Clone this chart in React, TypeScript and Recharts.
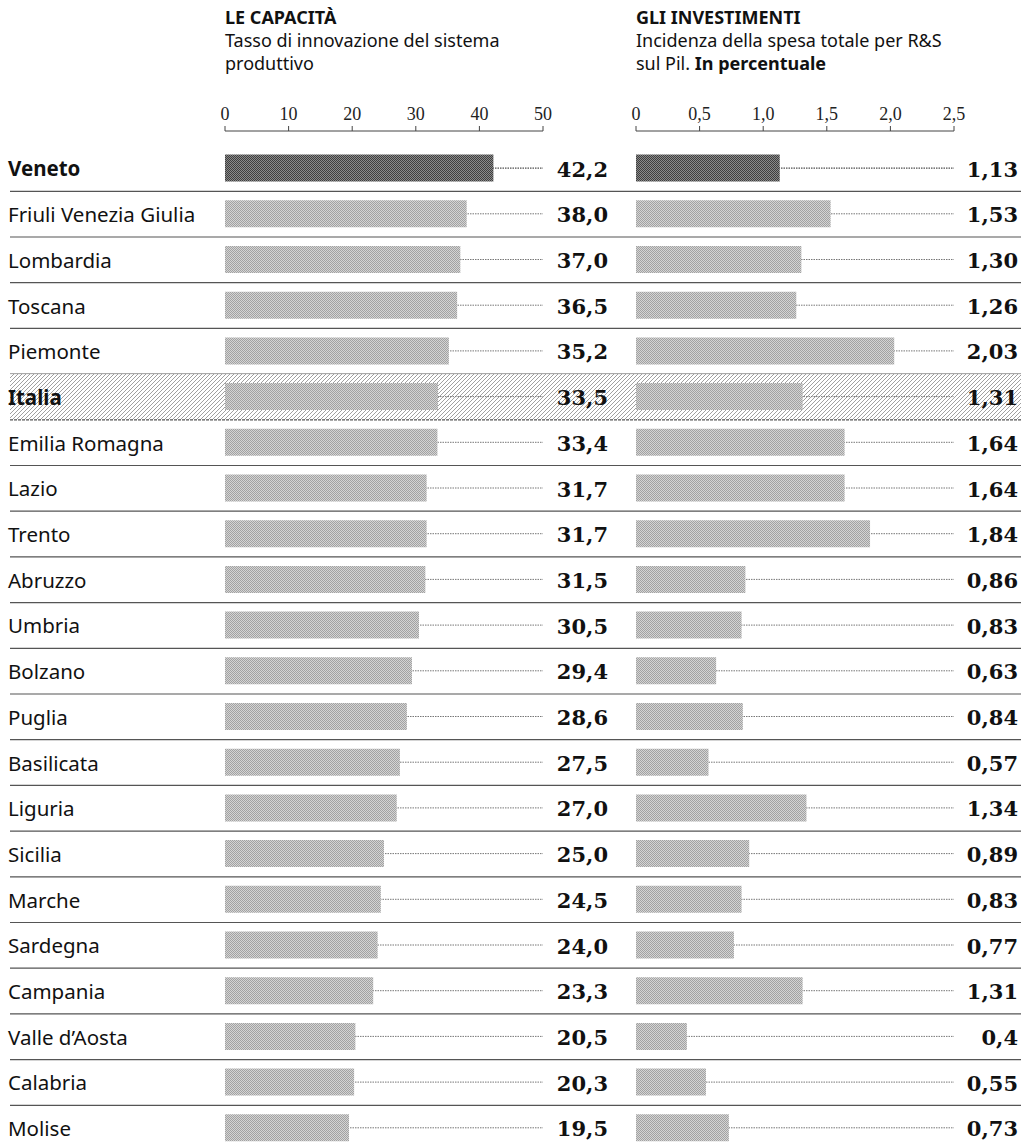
import { Bar, BarChart, Cell, LabelList, XAxis, YAxis } from "recharts";

const regions = [
  "Veneto",
  "Friuli Venezia Giulia",
  "Lombardia",
  "Toscana",
  "Piemonte",
  "Italia",
  "Emilia Romagna",
  "Lazio",
  "Trento",
  "Abruzzo",
  "Umbria",
  "Bolzano",
  "Puglia",
  "Basilicata",
  "Liguria",
  "Sicilia",
  "Marche",
  "Sardegna",
  "Campania",
  "Valle d’Aosta",
  "Calabria",
  "Molise",
];

// Tasso di innovazione del sistema produttivo
const capacita = [
  42.2, 38.0, 37.0, 36.5, 35.2, 33.5, 33.4, 31.7, 31.7, 31.5, 30.5, 29.4, 28.6,
  27.5, 27.0, 25.0, 24.5, 24.0, 23.3, 20.5, 20.3, 19.5,
];

// Spesa R&S sul Pil, in %
const investimenti = [
  1.13, 1.53, 1.3, 1.26, 2.03, 1.31, 1.64, 1.64, 1.84, 0.86, 0.83, 0.63, 0.84,
  0.57, 1.34, 0.89, 0.83, 0.77, 1.31, 0.4, 0.55, 0.73,
];
const investimentiLabels = [
  "1,13", "1,53", "1,30", "1,26", "2,03", "1,31", "1,64", "1,64", "1,84",
  "0,86", "0,83", "0,63", "0,84", "0,57", "1,34", "0,89", "0,83", "0,77",
  "1,31", "0,4", "0,55", "0,73",
];

const capTicks = [0, 10, 20, 30, 40, 50];
const invTicks = [0, 0.5, 1, 1.5, 2, 2.5];

const HIGHLIGHT = "Veneto";
const AVERAGE = "Italia";

const SANS = '"Noto Sans", sans-serif';
const SERIF = '"DejaVu Serif", serif';
const TICK_SERIF = '"Liberation Serif", serif';

// layout
const W = 1021;
const H = 1148;
const ROW_H = 45.7;
const PLOT_TOP = 131;
const AXIS_H = 30;
const PAD_TOP = 14.6;
const CHART_H = Math.round(PLOT_TOP + PAD_TOP + ROW_H * regions.length);

const rows = regions.map((region, i) => ({
  region,
  cap: capacita[i],
  inv: investimenti[i],
  capLabel: capacita[i].toFixed(1).replace(".", ","),
  invLabel: investimentiLabels[i],
}));

// row label + separator + hatch for the national average, drawn in the bottom layer
function RegionTick(props: any) {
  const { y, payload, index } = props;
  const name = payload.value;
  const bold = name === HIGHLIGHT || name === AVERAGE;
  const top = y - ROW_H / 2;
  const bottom = y + ROW_H / 2;
  return (
    <g>
      {name === AVERAGE && (
        <rect x={10} y={top} width={W - 10} height={ROW_H} fill="url(#italiaHatch)" />
      )}
      {index < regions.length - 1 && (
        <line
          x1={10}
          x2={W}
          y1={bottom}
          y2={bottom}
          stroke="#555"
          strokeWidth={1.2}
          strokeDasharray={name === AVERAGE ? "3 1" : undefined}
        />
      )}
      <text
        x={8}
        y={y}
        dominantBaseline="central"
        fontFamily={SANS}
        fontSize={20.5}
        fontWeight={bold ? 700 : 400}
        fill="#111"
      >
        {name}
      </text>
    </g>
  );
}

const leader = (props: any) => {
  const { x, y, width, height, index } = props;
  const name = props.payload?.region ?? regions[index];
  const cy = y + height / 2;
  return (
    <line
      x1={x}
      x2={x + width}
      y1={cy}
      y2={cy}
      stroke={name === HIGHLIGHT ? "#222" : "#777"}
      strokeWidth={1}
      strokeDasharray="1.5 1"
    />
  );
};

const valueLabel = (xPos: number) => (props: any) => {
  const { y, height, value } = props;
  return (
    <text
      x={xPos}
      y={Number(y) + Number(height) / 2 + 1}
      textAnchor="end"
      dominantBaseline="central"
      fontFamily={SERIF}
      fontWeight={700}
      fontSize={21}
      fill="#111"
    >
      {value}
    </text>
  );
};

const barFill = (name: string, id: string) =>
  name === HIGHLIGHT ? `url(#dark${id})` : `url(#light${id})`;

function Patterns({ id }: { id: string }) {
  return (
    <defs>
      <pattern id={`dark${id}`} width={2} height={2} patternUnits="userSpaceOnUse">
        <rect width={2} height={2} fill="#8a8a8a" />
        <rect x={0} y={0} width={1} height={1} fill="#3e3e3e" />
        <rect x={1} y={1} width={1} height={1} fill="#3e3e3e" />
      </pattern>
      <pattern id={`light${id}`} width={2} height={2} patternUnits="userSpaceOnUse">
        <rect width={2} height={2} fill="#d4d4d4" />
        <rect x={0} y={0} width={1} height={1} fill="#a2a2a2" />
        <rect x={1} y={1} width={1} height={1} fill="#a2a2a2" />
      </pattern>
    </defs>
  );
}

const axisStyle = {
  tick: { fill: "#222", fontSize: 18, fontFamily: TICK_SERIF },
  tickLine: { stroke: "#444" },
  axisLine: { stroke: "#444" },
};

const headStyle: React.CSSProperties = {
  position: "absolute",
  top: 6,
  fontFamily: SANS,
  fontSize: 18,
  lineHeight: "23px",
  color: "#111",
};

const layer: React.CSSProperties = { position: "absolute", left: 0, top: 0 };

export default function App() {
  return (
    <div
      style={{
        position: "absolute",
        left: 0,
        top: 0,
        width: W,
        height: H,
        background: "#fff",
        overflow: "hidden",
      }}
    >
      <div style={{ ...headStyle, left: 225 }}>
        <div style={{ fontWeight: 700 }}>LE CAPACITÀ</div>
        <div>Tasso di innovazione del sistema</div>
        <div>produttivo</div>
      </div>
      <div style={{ ...headStyle, left: 636 }}>
        <div style={{ fontWeight: 700 }}>GLI INVESTIMENTI</div>
        <div>Incidenza della spesa totale per R&amp;S</div>
        <div>
          sul Pil. <b>In percentuale</b>
        </div>
      </div>

      {/* bottom layer: region labels, row rules, hatched average row */}
      <div style={layer}>
        <BarChart
          width={W}
          height={CHART_H}
          data={rows}
          layout="vertical"
          margin={{ top: PLOT_TOP, right: W - 543, bottom: 0, left: 0 }}
        >
          <defs>
            <pattern id="italiaHatch" width={4} height={4} patternUnits="userSpaceOnUse">
              <rect width={4} height={4} fill="#fff" />
              <path d="M-1,1 l2,-2 M0,4 l4,-4 M3,5 l2,-2" stroke="#a0a0a0" strokeWidth={1} />
            </pattern>
          </defs>
          <YAxis
            type="category"
            dataKey="region"
            width={225}
            axisLine={false}
            tickLine={false}
            padding={{ top: PAD_TOP, bottom: 0 }}
            tick={<RegionTick />}
            interval={0}
          />
          <XAxis type="number" domain={[0, 50]} hide />
          <Bar dataKey="cap" fill="transparent" isAnimationActive={false} />
        </BarChart>
      </div>

      {/* left panel bars */}
      <div style={layer}>
        <BarChart
          width={W}
          height={CHART_H}
          data={rows}
          layout="vertical"
          margin={{ top: PLOT_TOP - AXIS_H, right: W - 543, bottom: 0, left: 225 }}
        >
          <Patterns id="L" />
          <YAxis
            type="category"
            dataKey="region"
            hide
            padding={{ top: PAD_TOP, bottom: 0 }}
          />
          <XAxis
            type="number"
            orientation="top"
            domain={[0, 50]}
            ticks={capTicks}
            height={AXIS_H}
            tickSize={5}
            tickMargin={6}
            {...axisStyle}
          />
          <Bar dataKey="cap" barSize={27} isAnimationActive={false} background={leader}>
            {rows.map((r) => (
              <Cell key={r.region} fill={barFill(r.region, "L")} />
            ))}
            <LabelList dataKey="capLabel" content={valueLabel(608)} />
          </Bar>
        </BarChart>
      </div>

      {/* right panel bars */}
      <div style={layer}>
        <BarChart
          width={W}
          height={CHART_H}
          data={rows}
          layout="vertical"
          margin={{ top: PLOT_TOP - AXIS_H, right: W - 954, bottom: 0, left: 636 }}
        >
          <Patterns id="R" />
          <YAxis
            type="category"
            dataKey="region"
            hide
            padding={{ top: PAD_TOP, bottom: 0 }}
          />
          <XAxis
            type="number"
            orientation="top"
            domain={[0, 2.5]}
            ticks={invTicks}
            height={AXIS_H}
            tickSize={5}
            tickMargin={6}
            tickFormatter={(v: number) => (v === 0 ? "0" : v.toFixed(1).replace(".", ","))}
            {...axisStyle}
          />
          <Bar dataKey="inv" barSize={27} isAnimationActive={false} background={leader}>
            {rows.map((r) => (
              <Cell key={r.region} fill={barFill(r.region, "R")} />
            ))}
            <LabelList dataKey="invLabel" content={valueLabel(1018)} />
          </Bar>
        </BarChart>
      </div>
    </div>
  );
}
